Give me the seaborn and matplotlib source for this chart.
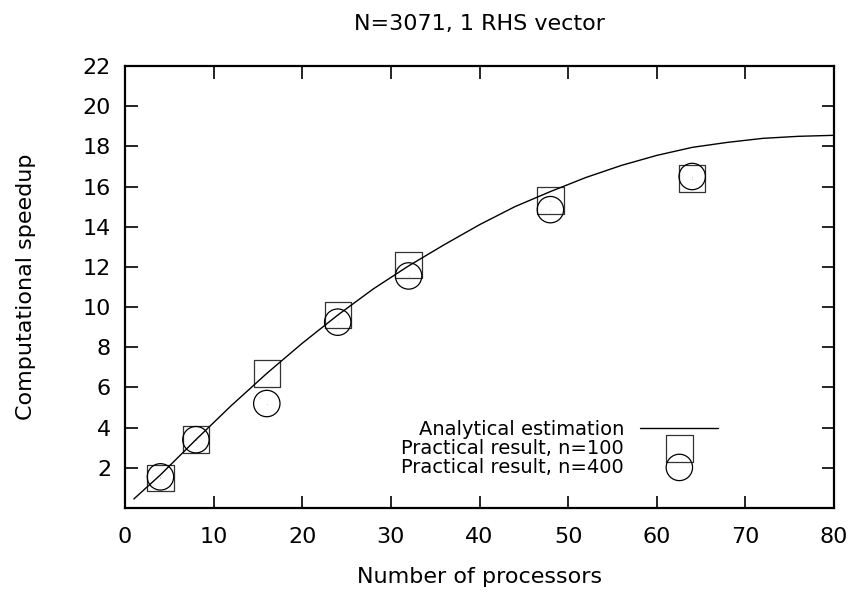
import matplotlib
matplotlib.use("Agg")
import matplotlib.pyplot as plt
import seaborn as sns
import pandas as pd

# ---- data ----
curve_procs = [1, 4, 8, 12, 16, 20, 24, 28, 32, 36, 40, 44, 48, 52, 56, 60, 64, 68, 72, 76, 80]
curve_speedup = [0.45, 1.65, 3.4, 5.1, 6.7, 8.2, 9.6, 10.9, 12.05, 13.1, 14.1, 15.0, 15.75,
                 16.45, 17.05, 17.55, 17.95, 18.2, 18.4, 18.5, 18.55]
procs = [4, 8, 16, 24, 32, 48, 64]
speedup_n100 = [1.5, 3.4, 6.7, 9.6, 12.1, 15.3, 16.4]
speedup_n400 = [1.55, 3.4, 5.2, 9.25, 11.55, 14.85, 16.5]

title = "N=3071, 1 RHS vector"
xlabel = "Number of processors"
ylabel = "Computational speedup"
label_curve = "Analytical estimation"
label_n100 = "Practical result, n=100"
label_n400 = "Practical result, n=400"
xticks = [0, 10, 20, 30, 40, 50, 60, 70, 80]
yticks = [2, 4, 6, 8, 10, 12, 14, 16, 18, 20, 22]

sns.set_style("ticks", {"text.color": "black", "axes.labelcolor": "black",
                        "xtick.color": "black", "ytick.color": "black",
                        "axes.edgecolor": "black"})
plt.rcParams['font.family'] = ['DejaVu Sans']

curve_df = pd.DataFrame({"p": curve_procs, "s": curve_speedup})
df100 = pd.DataFrame({"p": procs, "s": speedup_n100})
df400 = pd.DataFrame({"p": procs, "s": speedup_n400})

fig = plt.figure(figsize=(8.58, 5.98), dpi=100)
ax = fig.add_axes([125 / 858, 90 / 598, 709 / 858, 442 / 598])

FS = 16
LFS = 14

sns.lineplot(data=curve_df, x="p", y="s", ax=ax, color="black", linewidth=1.0,
             label=label_curve)
sns.scatterplot(data=df100, x="p", y="s", ax=ax, marker="s", s=19 ** 2,
                facecolor="none", edgecolor="#333333", linewidth=0.9, label=label_n100)
sns.scatterplot(data=df400, x="p", y="s", ax=ax, marker="o", s=19 ** 2,
                facecolor="none", edgecolor="black", linewidth=0.9, label=label_n400)
# tiny centre dots as in the gnuplot point style
sns.scatterplot(data=df100, x="p", y="s", ax=ax, marker=".", s=2, color="black",
                linewidth=0, legend=False)
sns.scatterplot(data=df400, x="p", y="s", ax=ax, marker=".", s=2, color="black",
                linewidth=0, legend=False)

ax.set_xlim(0, 80)
ax.set_ylim(0, 22)
ax.set_xticks(xticks)
ax.set_yticks(yticks)
ax.tick_params(direction="in", length=9, width=1.2, top=True, right=True,
               labelsize=FS, colors="black")
ax.tick_params(axis="x", pad=14)
ax.tick_params(axis="y", pad=10)
for sp in ax.spines.values():
    sp.set_visible(True)
    sp.set_linewidth(1.6)
    sp.set_color("black")

ax.set_title(title, fontsize=FS, pad=26, color="black")
ax.set_xlabel(xlabel, fontsize=FS, labelpad=14)
ax.set_ylabel(ylabel, fontsize=FS, labelpad=34)

leg = ax.legend(loc="center right", bbox_to_anchor=(0.8477, 0.1357), frameon=False,
                markerfirst=False, fontsize=LFS, handlelength=4.0, handletextpad=0.85,
                labelspacing=0.0, borderaxespad=0.0)
for t in leg.get_texts():
    t.set_ha("right")
leg._legend_box.align = "right"

fig.savefig("out.png", dpi=100)
